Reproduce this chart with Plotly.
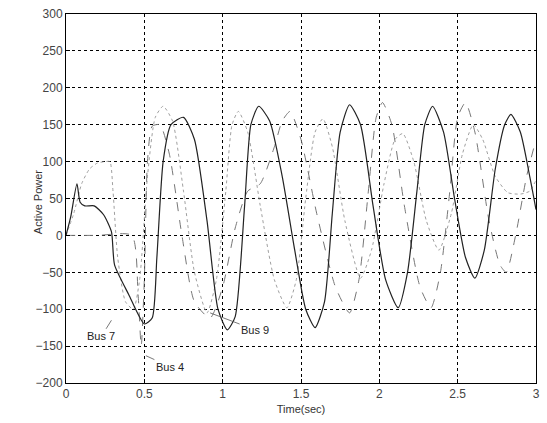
import plotly.graph_objects as go

# Time (sec) / Active Power samples
t_a = [0, 0.03, 0.07, 0.09, 0.12, 0.18, 0.24, 0.29, 0.31, 0.40, 0.50, 0.55, 0.58, 0.62, 0.67, 0.75, 0.82, 0.90, 0.97, 1.03, 1.08, 1.14, 1.18, 1.23, 1.30, 1.38, 1.46, 1.53, 1.59, 1.65, 1.70, 1.75, 1.81, 1.88, 1.96, 2.04, 2.12, 2.18, 2.24, 2.29, 2.34, 2.41, 2.48, 2.55, 2.61, 2.67, 2.74, 2.80, 2.84, 2.90, 2.96, 3.0]
p_a = [0, 25, 70, 45, 40, 40, 28, 5, -40, -80, -120, -112, -30, 100, 150, 160, 130, 20, -100, -128, -110, 40, 150, 175, 155, 80, -20, -100, -125, -90, 30, 140, 177, 150, 40, -60, -98, -50, 60, 150, 175, 140, 50, -30, -58, -20, 90, 150, 164, 140, 80, 35]

t_c = [0, 0.05, 0.10, 0.15, 0.20, 0.25, 0.28, 0.30, 0.33, 0.38, 0.43, 0.47, 0.52, 0.57, 0.62, 0.68, 0.75, 0.82, 0.90, 0.96, 1.02, 1.06, 1.10, 1.16, 1.24, 1.33, 1.41, 1.47, 1.53, 1.59, 1.64, 1.70, 1.78, 1.88, 1.95, 2.03, 2.10, 2.15, 2.22, 2.30, 2.38, 2.46, 2.53, 2.60, 2.66, 2.74, 2.82, 2.90, 2.96, 3.0]
p_c = [0, 30, 70, 90, 98, 100, 100, 60, -30, -90, -100, -60, 80, 160, 175, 155, 60, -50, -105, -60, 60, 150, 168, 140, 40, -60, -98, -60, 50, 140, 158, 120, 20, -58, -20, 70, 130, 138, 100, 20, -20, 30, 110, 150, 130, 80, 58, 56, 60, 75]

t_d = [0, 0.20, 0.42, 0.46, 0.48, 0.50, 0.52, 0.55, 0.60, 0.66, 0.74, 0.82, 0.92, 1.00, 1.08, 1.16, 1.24, 1.33, 1.38, 1.43, 1.50, 1.60, 1.72, 1.81, 1.87, 1.93, 1.98, 2.02, 2.08, 2.16, 2.26, 2.33, 2.39, 2.45, 2.50, 2.55, 2.61, 2.70, 2.77, 2.81, 2.87, 2.94, 3.0]
p_d = [0, 0, 0, -80, -150, -60, 100, 148, 150, 110, 0, -90, -112, -70, 10, 60, 70, 120, 155, 168, 130, 30, -70, -105, -60, 60, 160, 180, 150, 40, -70, -98, -50, 60, 160, 180, 140, 20, -40, -50, 0, 80, 130]

x_ticks = [0, 0.5, 1, 1.5, 2, 2.5, 3]
x_tick_labels = ["0", "0.5", "1", "1.5", "2", "2.5", "3"]
y_ticks = [-200, -150, -100, -50, 0, 50, 100, 150, 200, 250, 300]

fig = go.Figure()
fig.add_trace(go.Scatter(x=t_c, y=p_c, mode="lines", name="c",
                         line=dict(color="#a0a0a0", width=1, dash="dot", shape="spline", smoothing=0.6)))
fig.add_trace(go.Scatter(x=t_d, y=p_d, mode="lines", name="d",
                         line=dict(color="#777777", width=1, dash="dash", shape="spline", smoothing=0.6)))
fig.add_trace(go.Scatter(x=t_a, y=p_a, mode="lines", name="a",
                         line=dict(color="#222222", width=1.2, shape="spline", smoothing=0.6)))

font = dict(family="Liberation Sans, Arial, sans-serif", size=11, color="#333")
tick_font = dict(family="Liberation Sans, Arial, sans-serif", size=12, color="#444")
axis_common = dict(showline=True, linecolor="#000", linewidth=1, mirror=True,
                   showgrid=True, gridcolor="#000", gridwidth=1, griddash="3px,3px",
                   ticks="inside", ticklen=4, tickcolor="#000", zeroline=False,
                   tickfont=tick_font, ticklabeloverflow="allow")

fig.update_layout(
    width=547, height=423,
    margin=dict(l=66, r=7, t=12, b=40),
    paper_bgcolor="white", plot_bgcolor="white",
    showlegend=False,
    font=font,
    xaxis=dict(range=[0, 3], tickvals=x_ticks, ticktext=x_tick_labels,
               title=dict(text="Time(sec)", font=font, standoff=4), **axis_common),
    yaxis=dict(range=[-200, 300], tickvals=y_ticks, **axis_common),
)

# y-axis title placed close to the tick labels, as in the reference
fig.add_annotation(text="Active Power", xref="paper", yref="paper", x=0, y=0.49,
                   xshift=-28, xanchor="center", yanchor="middle", textangle=-90,
                   showarrow=False, font=font)

ann_font = dict(family="Liberation Sans, Arial, sans-serif", size=11, color="#222")
fig.add_annotation(x=0.29, y=-115, text="Bus 7", showarrow=True, arrowhead=0, arrowwidth=0.8,
                   arrowcolor="#555", ax=-10, ay=16, xanchor="center", font=ann_font)
fig.add_annotation(x=0.51, y=-163, text="Bus 4", showarrow=True, arrowhead=0, arrowwidth=0.8,
                   arrowcolor="#555", ax=24, ay=11, font=ann_font)
fig.add_annotation(x=0.92, y=-105, text="Bus 9", showarrow=True, arrowhead=0, arrowwidth=0.8,
                   arrowcolor="#555", ax=45, ay=17, font=ann_font)

fig.write_html("out.html", config={"displayModeBar": False},
               post_script="document.body.style.margin='0';document.body.style.overflow='hidden';")
